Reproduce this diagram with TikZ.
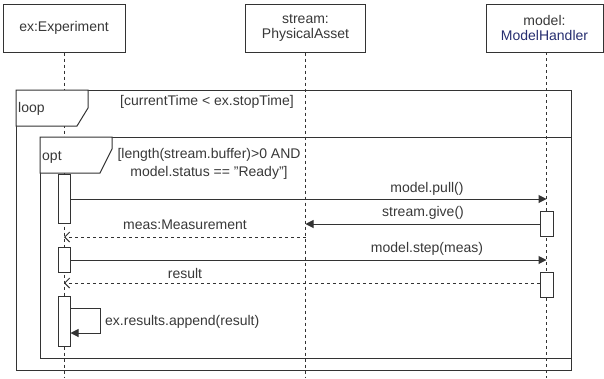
\documentclass[tikz,border=0pt]{standalone}
\usepackage{fontspec}
\setmainfont{Liberation Sans}
\usetikzlibrary{arrows.meta}
\definecolor{umlline}{HTML}{333333}
\definecolor{umltext}{HTML}{383838}
\definecolor{umlblue}{HTML}{262E70}
\tikzset{
	headstyle/.style={rectangle,draw=umlline,fill=white,line width=1pt,minimum height=48pt,align=center,text=umltext,font=\fontsize{14}{15.5}\selectfont},
	lifestyle/.style={draw=umlline,line width=1pt,dash pattern=on 3pt off 3pt},
	actstyle/.style={rectangle,draw=umlline,fill=white,line width=1pt,minimum width=12pt,inner sep=0pt},
	framestyle/.style={draw=umlline,line width=1pt},
	tabstyle/.style={draw=umlline,fill=white,line width=1pt},
	labelstyle/.style={text=umltext,font=\fontsize{14}{17.5}\selectfont,inner sep=0pt,align=center},
	callstyle/.style={draw=umlline,line width=1pt,-{Triangle[length=8pt,width=8pt]}},
	replystyle/.style={draw=umlline,line width=1pt,dash pattern=on 3pt off 3pt,-{Straight Barb[length=5pt,width=10pt]}}
}

\begin{document}
\begin{tikzpicture}[x=1pt,y=-1pt]
		\useasboundingbox (0,0) rectangle (604,378);
		% lifeline heads
		\node[headstyle,minimum width=122pt] (ex) at (64,28) {ex:Experiment};
		\node[headstyle,minimum width=120pt] (stream) at (305.5,28) {stream:\\PhysicalAsset};
		\node[headstyle,minimum width=117pt] (model) at (544.5,28) {model:\\\textcolor{umlblue}{ModelHandler}};
		\coordinate (exEnd) at (64,378);
		\coordinate (streamEnd) at (305.5,378);
		\coordinate (modelTop) at (546.5,52);
		\coordinate (modelEnd) at (546.5,378);
		\draw[lifestyle] (ex) -- (exEnd);
		\draw[lifestyle] (stream) -- (streamEnd);
		\draw[lifestyle] (modelTop) -- (modelEnd);
		% loop frame
		\draw[framestyle] (16,90) rectangle (571,370);
		\draw[tabstyle] (16,90) -- (88,90) -- (88,108) -- (77,126) -- (16,126) -- cycle;
		\node[labelstyle,anchor=west] (loopTag) at (18,109) {loop};
		\node[labelstyle] (loopGuard) at (207,102) {[currentTime < ex.stopTime]};
		% opt frame
		\draw[framestyle] (40,137) rectangle (571,358);
		\draw[tabstyle] (40,137) -- (112,137) -- (112,149) -- (100,173) -- (40,173) -- cycle;
		\node[labelstyle,anchor=west] (optTag) at (42,157) {opt};
		\node[labelstyle] (optGuard) at (209,164) {[length(stream.buffer)>0 AND\\model.status == \symbol{34}Ready\symbol{34}]};
		% activations
		\node[actstyle,minimum height=49pt] (act1) at (64,198.5) {};
		\node[actstyle,minimum height=25pt] (act2) at (64,259.5) {};
		\node[actstyle,minimum height=50pt] (act3) at (64,321) {};
		\node[actstyle,minimum height=25pt,minimum width=13pt] (act4) at (546.5,223.5) {};
		\node[actstyle,minimum height=25pt,minimum width=13pt] (act5) at (546.5,284.5) {};
		% messages
		\coordinate (pullEnd) at (546.5,199);
		\coordinate (giveEnd) at (305.5,224);
		\coordinate (measEnd) at (64,237);
		\coordinate (stepEnd) at (546.5,260);
		\coordinate (resultEnd) at (64,283);
		\coordinate (selfA) at (100,308);
		\coordinate (selfB) at (100,333);
		\draw[callstyle] (act1.east |- pullEnd) -- (pullEnd);
		\draw[callstyle] (act4.west |- giveEnd) -- (giveEnd);
		\draw[replystyle] (giveEnd |- measEnd) -- (measEnd);
		\draw[callstyle] (act2.east |- stepEnd) -- (stepEnd);
		\draw[replystyle] (act5.west |- resultEnd) -- (resultEnd);
		\draw[callstyle] (act3.east |- selfA) -- (selfA) -- (selfB) -- (act3.east |- selfB);
		\node[labelstyle] (pullLbl) at (427,189) {model.pull()};
		\node[labelstyle] (giveLbl) at (423,213) {stream.give()};
		\node[labelstyle] (measLbl) at (185,225) {meas:Measurement};
		\node[labelstyle] (stepLbl) at (427,249) {model.step(meas)};
		\node[labelstyle] (resultLbl) at (185,273) {result};
		\node[labelstyle,anchor=west] (selfLbl) at (105,322) {ex.results.append(result)};
\end{tikzpicture}
\end{document}
